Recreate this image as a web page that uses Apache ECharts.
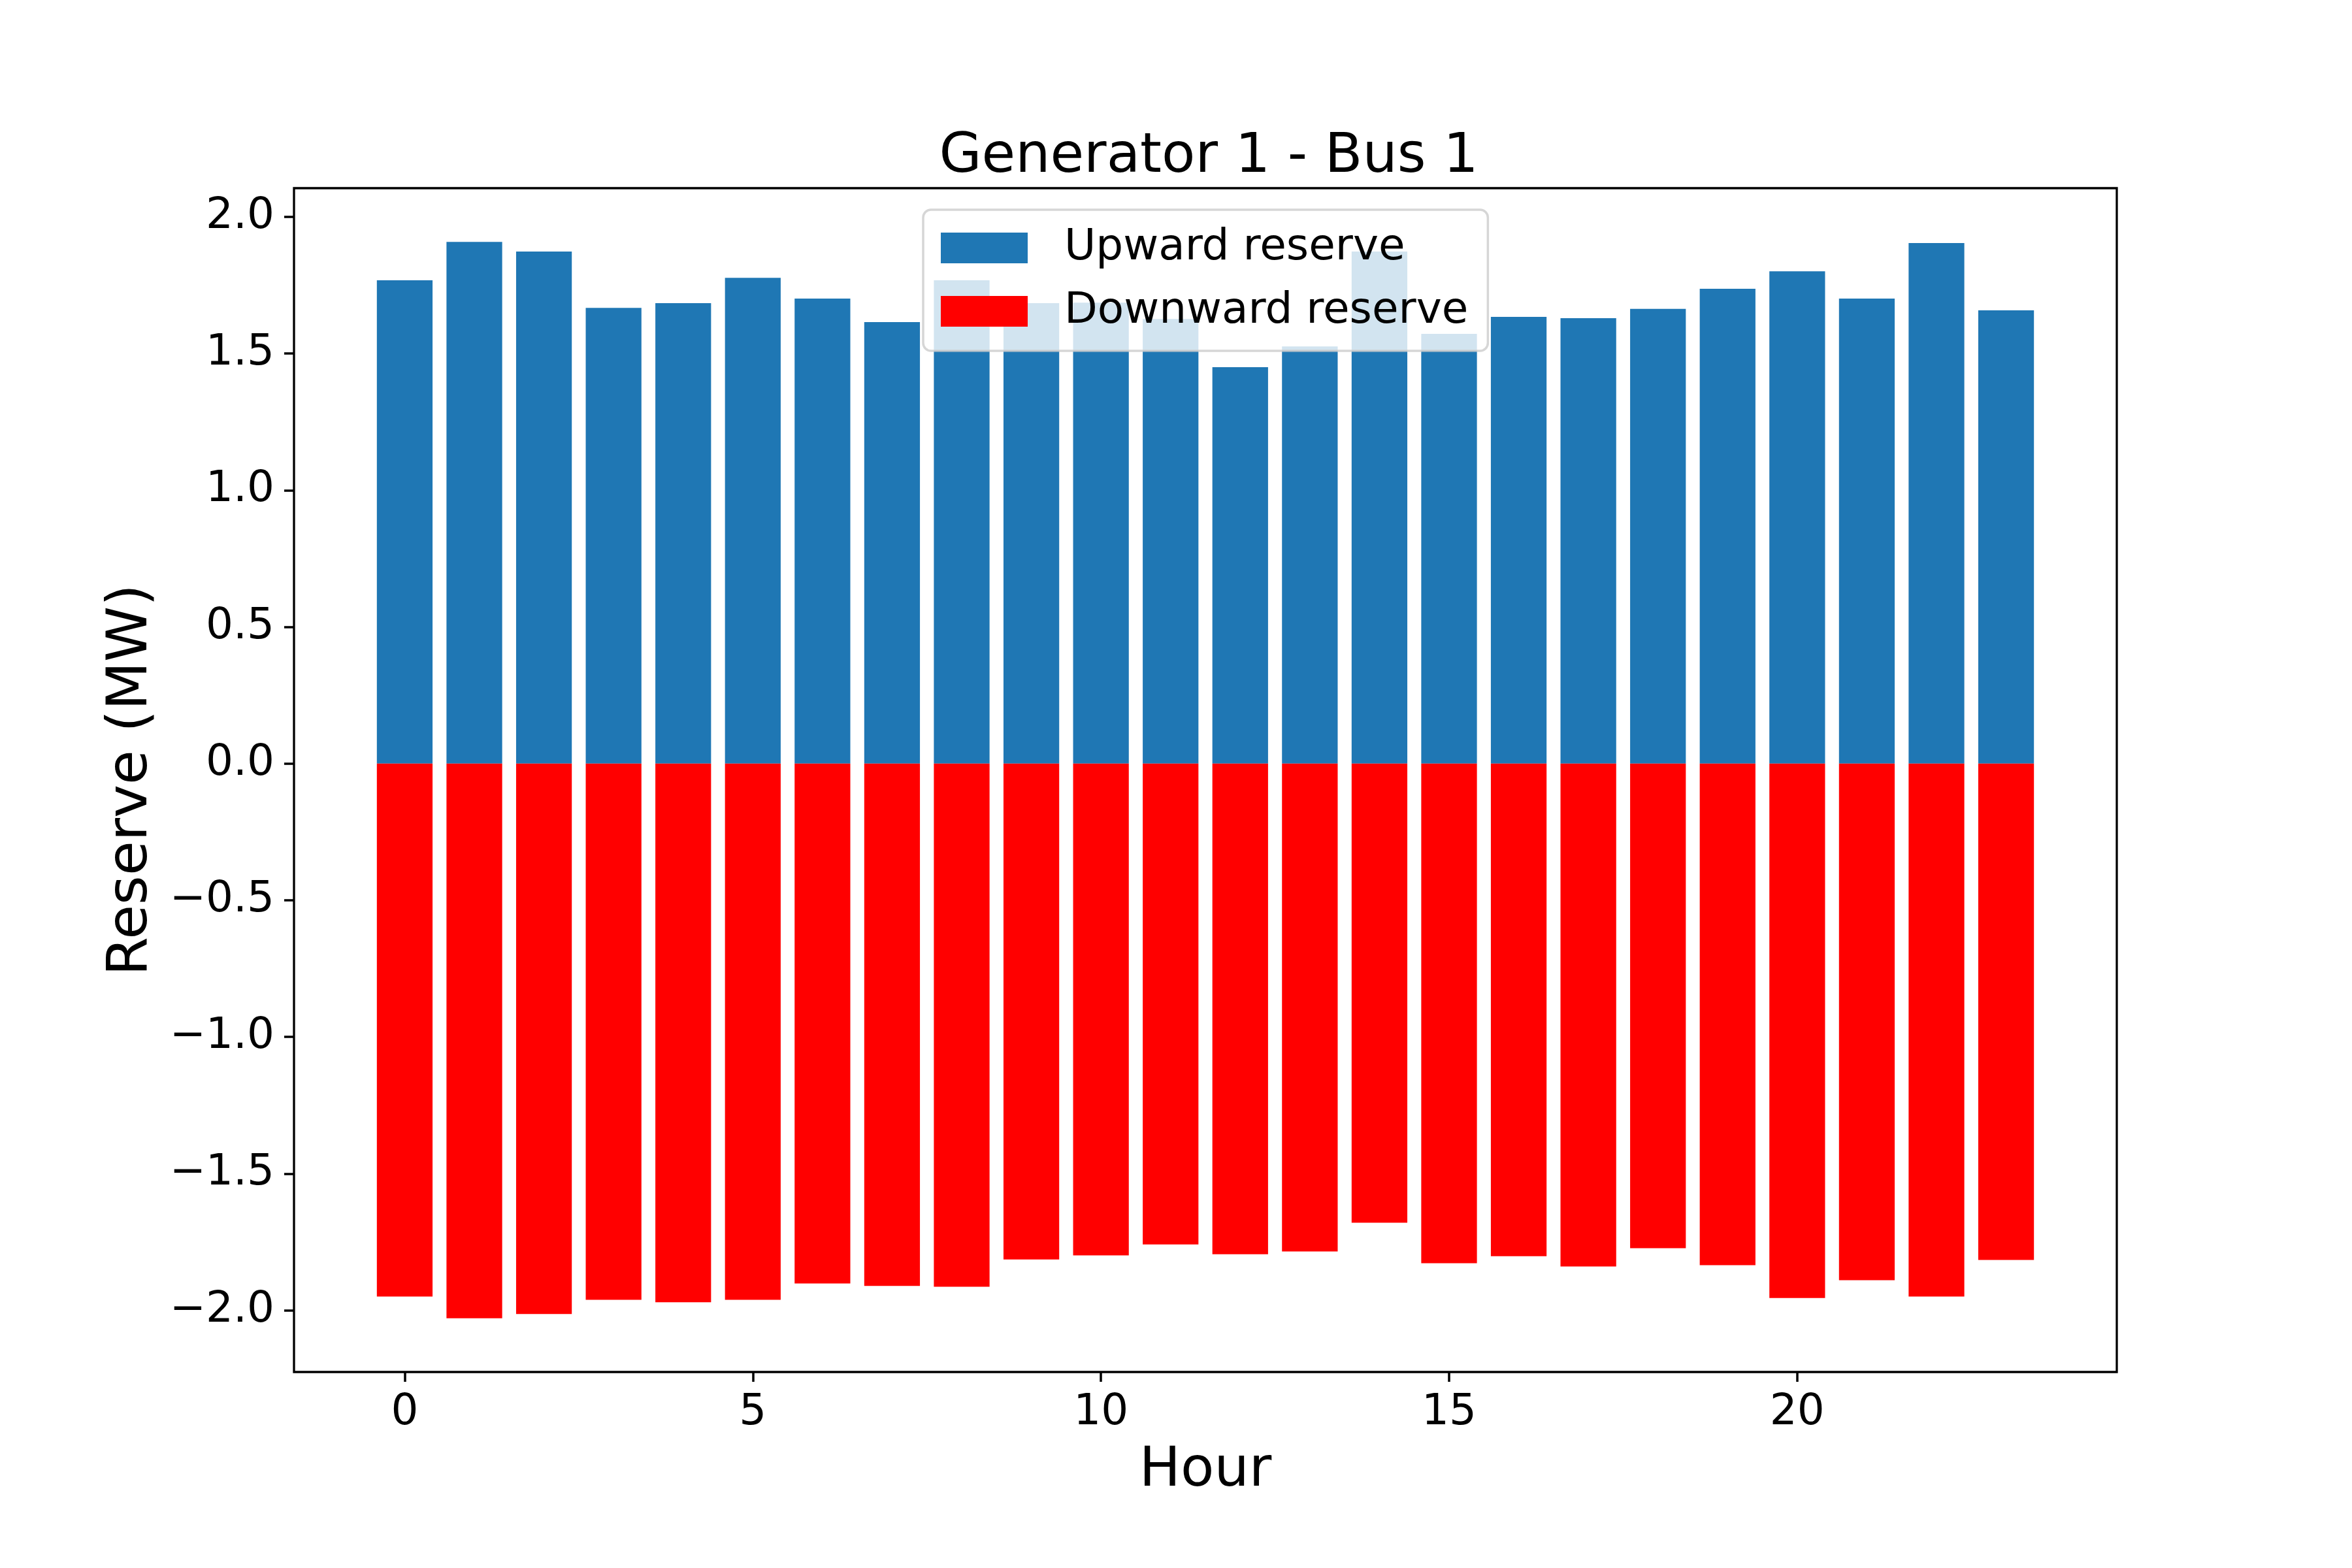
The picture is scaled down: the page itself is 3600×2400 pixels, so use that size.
<!DOCTYPE html>
<html>
<head>
<meta charset="utf-8">
<title>Generator 1 - Bus 1</title>
<script src="https://cdn.jsdelivr.net/npm/echarts@6/dist/echarts.min.js"></script>
<style>
  html, body { margin: 0; padding: 0; background: #fff; }
  #chart { width: 3600px; height: 2400px; }
</style>
</head>
<body>
<div id="chart"></div>
<script>
// hourly reserve values
const hours = [0, 1, 2, 3, 4, 5, 6, 7, 8, 9, 10, 11, 12, 13, 14, 15, 16, 17, 18, 19, 20, 21, 22, 23];
const upward = [1.768, 1.908, 1.873, 1.667, 1.684, 1.777, 1.701, 1.615, 1.768, 1.684, 1.686, 1.626,
                1.450, 1.526, 1.873, 1.572, 1.634, 1.629, 1.663, 1.737, 1.801, 1.701, 1.904, 1.658];
const downward = [-1.950, -2.029, -2.014, -1.962, -1.971, -1.962, -1.902, -1.911, -1.914, -1.814, -1.799, -1.759,
                  -1.795, -1.785, -1.680, -1.828, -1.802, -1.840, -1.773, -1.835, -1.955, -1.890, -1.950, -1.816];
const xTicks = [0, 5, 10, 15, 20];
const yTicks = [-2.0, -1.5, -1.0, -0.5, 0.0, 0.5, 1.0, 1.5, 2.0];

const FONT = 'DejaVu Sans';

// matplotlib style axis limits: 5% margin around the data
const barHalf = 0.4;
const xSpan = (hours[hours.length - 1] + barHalf) - (hours[0] - barHalf);
const xMin = hours[0] - barHalf - xSpan * 0.05;
const xMax = hours[hours.length - 1] + barHalf + xSpan * 0.05;
const yHi = Math.max(0, ...upward);
const yLo = Math.min(0, ...downward);
const yMin = yLo - (yHi - yLo) * 0.05;
const yMax = yHi + (yHi - yLo) * 0.05;

const fmtNum = v => {
  const s = Math.abs(v).toFixed(1);
  return v < 0 ? '\u2212' + s : s;
};

const chart = echarts.init(document.getElementById('chart'));

const option = {
  animation: false,
  backgroundColor: '#fff',
  title: {
    text: 'Generator 1 - Bus 1',
    left: 1845,
    top: 194,
    textAlign: 'center',
    textStyle: { fontFamily: FONT, fontSize: 84, fontWeight: 'normal', color: '#000' }
  },
  legend: {
    data: ['Upward reserve', 'Downward reserve'],
    orient: 'vertical',
    left: 1413,
    top: 321,
    padding: [21, 30, 23, 27],
    itemWidth: 133,
    itemHeight: 47,
    itemGap: 22,
    icon: 'rect',
    selectedMode: false,
    backgroundColor: 'rgba(255,255,255,0.8)',
    borderColor: 'rgba(204,204,204,0.8)',
    borderWidth: 3.5,
    borderRadius: 12,
    textStyle: {
      fontFamily: FONT,
      fontSize: 66,
      lineHeight: 75,
      color: '#000',
      padding: [0, 0, 0, 51]
    }
  },
  grid: {
    left: 450,
    right: 360,
    top: 288,
    bottom: 300,
    show: true,
    borderColor: '#000',
    borderWidth: 3.3,
    outerBoundsMode: 'none'
  },
  xAxis: {
    type: 'value',
    min: xMin,
    max: xMax,
    name: 'Hour',
    nameLocation: 'middle',
    nameGap: 110,
    nameTextStyle: { fontFamily: FONT, fontSize: 84, color: '#000' },
    axisLine: { show: false, onZero: false },
    splitLine: { show: false },
    axisTick: {
      show: true,
      inside: false,
      length: 15,
      customValues: xTicks,
      lineStyle: { color: '#000', width: 3.5 }
    },
    axisLabel: {
      customValues: xTicks,
      margin: 30,
      fontFamily: FONT,
      fontSize: 66,
      color: '#000',
      formatter: v => String(v)
    }
  },
  yAxis: {
    type: 'value',
    min: yMin,
    max: yMax,
    name: 'Reserve (MW)',
    nameLocation: 'middle',
    nameGap: 205,
    nameRotate: 90,
    nameTextStyle: { fontFamily: FONT, fontSize: 86, color: '#000' },
    axisLine: { show: false, onZero: false },
    splitLine: { show: false },
    axisTick: {
      show: true,
      inside: false,
      length: 15,
      customValues: yTicks,
      lineStyle: { color: '#000', width: 3.5 }
    },
    axisLabel: {
      customValues: yTicks,
      margin: 30,
      fontFamily: FONT,
      fontSize: 66,
      color: '#000',
      formatter: fmtNum
    }
  },
  series: [
    {
      name: 'Upward reserve',
      type: 'bar',
      stack: 'reserve',
      barWidth: '80%',
      itemStyle: { color: '#1f77b4' },
      data: hours.map((h, i) => [h, upward[i]])
    },
    {
      name: 'Downward reserve',
      type: 'bar',
      stack: 'reserve',
      barWidth: '80%',
      itemStyle: { color: '#ff0000' },
      data: hours.map((h, i) => [h, downward[i]])
    }
  ]
};

chart.setOption(option);
</script>
</body>
</html>
